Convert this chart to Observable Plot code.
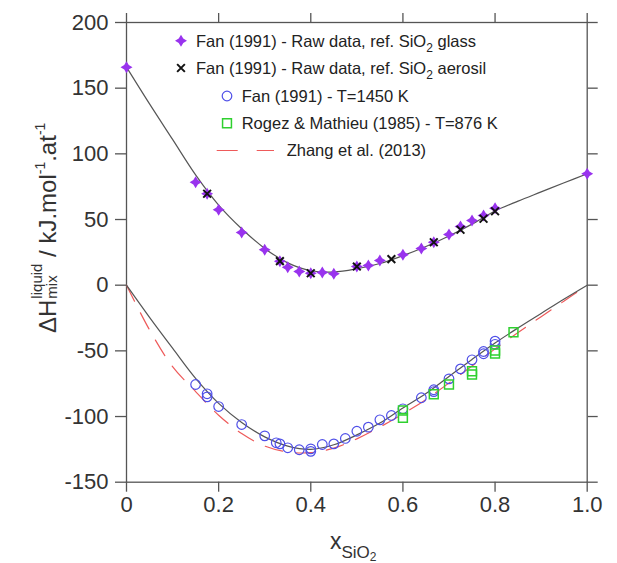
<!DOCTYPE html>
<html><head><meta charset="utf-8">
<script src="https://cdn.jsdelivr.net/npm/d3@7"></script>
<script src="https://cdn.jsdelivr.net/npm/@observablehq/plot@0.6"></script>
<style>body{margin:0;background:#fff}</style>
</head><body><div id="chart"></div>
<script>
// ---- data ----
const xTicks = [0, 0.2, 0.4, 0.6, 0.8, 1.0];
const xTickLabels = ["0", "0.2", "0.4", "0.6", "0.8", "1.0"];
const yTicks = [-150, -100, -50, 0, 50, 100, 150, 200];

// Fan (1991) raw data, ref. SiO2 glass
const glassX = [0, 0.15, 0.175, 0.2, 0.25, 0.3, 0.333, 0.35, 0.375, 0.4, 0.425, 0.45, 0.5, 0.525, 0.55, 0.6, 0.64, 0.667, 0.7, 0.725, 0.75, 0.775, 0.8, 1.0];
const glassY = [166, 78.4, 69.6, 57.4, 40.1, 27, 18.3, 13.7, 10.4, 9.1, 9.7, 8.7, 14.2, 15, 18.8, 23.1, 27.9, 32.7, 38.6, 44.7, 49.3, 53.1, 58.6, 84.8];
// Fan (1991) raw data, ref. SiO2 aerosil
const aerosilX = [0.175, 0.333, 0.4, 0.5, 0.575, 0.667, 0.725, 0.775, 0.8];
const aerosilY = [69.6, 18.3, 9.1, 14.2, 19.8, 32.7, 42.2, 50.6, 56.3];
// Fan (1991) T=1450 K
const fanX = [0.15, 0.175, 0.175, 0.2, 0.25, 0.3, 0.325, 0.333, 0.35, 0.375, 0.4, 0.4, 0.425, 0.45, 0.475, 0.5, 0.525, 0.55, 0.575, 0.6, 0.64, 0.667, 0.667, 0.7, 0.725, 0.75, 0.775, 0.775, 0.8, 0.8];
const fanY = [-75.6, -82.7, -85, -92.4, -106.1, -114.7, -120, -120.8, -123.8, -125.3, -124.6, -126.5, -121.3, -120.8, -116.7, -111.2, -108.1, -102.5, -99.2, -94.1, -85.7, -79.6, -81, -71.3, -63.7, -56.8, -52.2, -50.5, -42.6, -45];
// Rogez & Mathieu (1985) T=876 K
const rogezX = [0.6, 0.6, 0.667, 0.7, 0.75, 0.75, 0.8, 0.8, 0.84];
const rogezY = [-95.4, -101, -83, -75.6, -65.5, -68, -49.7, -52, -35.8];
// Model curves
const curveX = [0, 0.05, 0.1, 0.15, 0.2, 0.25, 0.3, 0.35, 0.4, 0.45, 0.5, 0.55, 0.6, 0.65, 0.7, 0.75, 0.8, 0.85, 0.9, 0.95, 1.0];
const upperY = [166, 138, 111, 84, 61, 43, 28, 17, 11, 10, 12.5, 16.5, 22.5, 29.5, 37.5, 46.5, 56.5, 64, 71, 78, 84.8];
const lowerY = [0, -24.5, -48, -71, -90, -104.5, -115.5, -122.5, -125, -121.5, -114, -105, -93.5, -82.5, -69.5, -56.5, -44, -32.5, -21.5, -10.5, 0];
// Zhang et al. (2013)
const zhangY = [0, -34, -62, -81, -99, -113, -122.5, -127, -127.5, -124, -117, -108, -98, -87, -74.5, -61.5, -48.5, -36, -24, -12, 0];

const legendLabels = [
  ["Fan (1991) - Raw data, ref. SiO", "2", " glass"],
  ["Fan (1991) - Raw data, ref. SiO", "2", " aerosil"],
  ["Fan (1991) - T=1450 K"],
  ["Rogez & Mathieu (1985) - T=876 K"],
  ["Zhang et al. (2013)"]
];

// ---- colors / symbols ----
const cPurple = "#9933ee", cBlack = "#111", cBlue = "#4f4fe8", cGreen = "#2fd02f", cRed = "#ee5a5a", cLine = "#555";
const star4 = {draw(ctx, size) {
  const r = Math.sqrt(size / Math.PI) * 1.15, k = r * 0.38;
  ctx.moveTo(0, -r); ctx.lineTo(k, -k); ctx.lineTo(r, 0); ctx.lineTo(k, k);
  ctx.lineTo(0, r); ctx.lineTo(-k, k); ctx.lineTo(-r, 0); ctx.lineTo(-k, -k); ctx.closePath();
}};

const pts = (xs, ys) => xs.map((x, i) => ({x, y: ys[i]}));

const plot = Plot.plot({
  width: 617, height: 563,
  marginLeft: 126, marginRight: 30.3, marginTop: 22, marginBottom: 81.3,
  style: {fontFamily: "'Liberation Sans', Arial, sans-serif", fontSize: "22px", color: "#333", background: "#fff"},
  x: {domain: [0, 1]},
  y: {domain: [-150, 200]},
  marks: [
    Plot.frame({stroke: cLine, strokeWidth: 1.3}),
    Plot.axisX({ticks: xTicks, tickSize: 10, tickPadding: 4, tickFormat: d => xTickLabels[xTicks.indexOf(d)], label: null, stroke: cLine, strokeWidth: 1.3, fill: "#333", fontSize: 22}),
    Plot.axisX({anchor: "top", ticks: xTicks, tickSize: 10, tickFormat: () => "", label: null, stroke: cLine, strokeWidth: 1.3}),
    Plot.axisY({ticks: yTicks, tickSize: 11, tickPadding: 7, tickFormat: d => String(d), label: null, stroke: cLine, strokeWidth: 1.3, fill: "#333", fontSize: 22}),
    Plot.axisY({anchor: "right", ticks: yTicks, tickSize: 10, tickFormat: () => "", label: null, stroke: cLine, strokeWidth: 1.3}),
    Plot.line(pts(curveX, zhangY), {x: "x", y: "y", curve: "catmull-rom", stroke: cRed, strokeWidth: 1.2, strokeDasharray: "18,13"}),
    Plot.line(pts(curveX, upperY), {x: "x", y: "y", curve: "catmull-rom", stroke: cLine, strokeWidth: 1.2}),
    Plot.line(pts(curveX, lowerY), {x: "x", y: "y", curve: "catmull-rom", stroke: cLine, strokeWidth: 1.2}),
    Plot.dot(pts(glassX, glassY), {x: "x", y: "y", symbol: star4, r: 5.2, fill: cPurple, stroke: "none"}),
    Plot.dot(pts(aerosilX, aerosilY), {x: "x", y: "y", symbol: "times", r: 3.6, stroke: cBlack, strokeWidth: 2}),
    Plot.dot(pts(fanX, fanY), {x: "x", y: "y", symbol: "circle", r: 4.8, stroke: cBlue, strokeWidth: 1.2, fill: "none"}),
    Plot.dot(pts(rogezX, rogezY), {x: "x", y: "y", symbol: "square", r: 5, stroke: cGreen, strokeWidth: 1.5, fill: "none"})
  ]
});
document.getElementById("chart").appendChild(plot);

const svg = d3.select(plot);
const font = "'Liberation Sans', Arial, sans-serif";

// ---- legend ----
const lg = svg.append("g").attr("font-family", font).attr("font-size", 16.5).attr("fill", "#222").attr("text-anchor", "start");
const rowsY = [40.7, 68, 96, 123.3, 150.5];
const symX = [181, 181, 227, 227, null];
const textX = [196, 196, 241.7, 241.7, 286.7];
const symDefs = [
  {type: star4, size: Math.PI * 5.2 * 5.2, fill: cPurple, stroke: "none", sw: 0},
  {type: d3.symbolTimes, size: Math.PI * 3.6 * 3.6, fill: "none", stroke: cBlack, sw: 2},
  {type: d3.symbolCircle, size: Math.PI * 4.8 * 4.8, fill: "none", stroke: cBlue, sw: 1.2},
  {type: d3.symbolSquare, size: Math.PI * 25, fill: "none", stroke: cGreen, sw: 1.5}
];
legendLabels.forEach((parts, i) => {
  if (i < 4) {
    const s = symDefs[i];
    lg.append("path").attr("d", d3.symbol(s.type, s.size)())
      .attr("transform", `translate(${symX[i]},${rowsY[i]})`)
      .attr("fill", s.fill).attr("stroke", s.stroke).attr("stroke-width", s.sw);
  } else {
    lg.append("line").attr("x1", 216.7).attr("x2", 274).attr("y1", rowsY[i]).attr("y2", rowsY[i])
      .attr("stroke", cRed).attr("stroke-width", 1.2).attr("stroke-dasharray", "21,19");
  }
  const t = lg.append("text").attr("x", textX[i]).attr("y", rowsY[i]).attr("dy", "0.36em");
  t.append("tspan").text(parts[0]);
  if (parts.length > 1) {
    t.append("tspan").attr("font-size", 12).attr("dy", 5).text(parts[1]);
    t.append("tspan").attr("dy", -5).text(parts[2]);
  }
});

// ---- axis titles ----
const xl = svg.append("text").attr("x", 330).attr("y", 549).attr("text-anchor", "start")
  .attr("font-family", font).attr("font-size", 23).attr("fill", "#333");
xl.append("tspan").text("x");
xl.append("tspan").attr("font-size", 17).attr("dy", 9).text("SiO");
xl.append("tspan").attr("font-size", 12).attr("dy", 3).text("2");

const yl = svg.append("text").attr("transform", "translate(56,333) rotate(-90)").attr("text-anchor", "start")
  .attr("font-family", font).attr("font-size", 24).attr("fill", "#333");
const t1 = yl.append("tspan").attr("x", 0).attr("y", 0).text("ΔH");
const w1 = t1.node().getComputedTextLength();
const t2 = yl.append("tspan").attr("x", w1 + 1).attr("y", -14).attr("font-size", 15).text("liquid");
const w2 = t2.node().getComputedTextLength();
const t3 = yl.append("tspan").attr("x", w1 + 1).attr("y", 1).attr("font-size", 15).text("mix");
const w3 = t3.node().getComputedTextLength();
yl.append("tspan").attr("x", w1 + 1 + Math.max(w2, w3)).attr("y", 0).text(" / kJ.mol");
yl.append("tspan").attr("font-size", 14).attr("dy", -11).text("-1");
yl.append("tspan").attr("dy", 11).text(".at");
yl.append("tspan").attr("font-size", 14).attr("dy", -11).text("-1");
</script>
</body></html>
